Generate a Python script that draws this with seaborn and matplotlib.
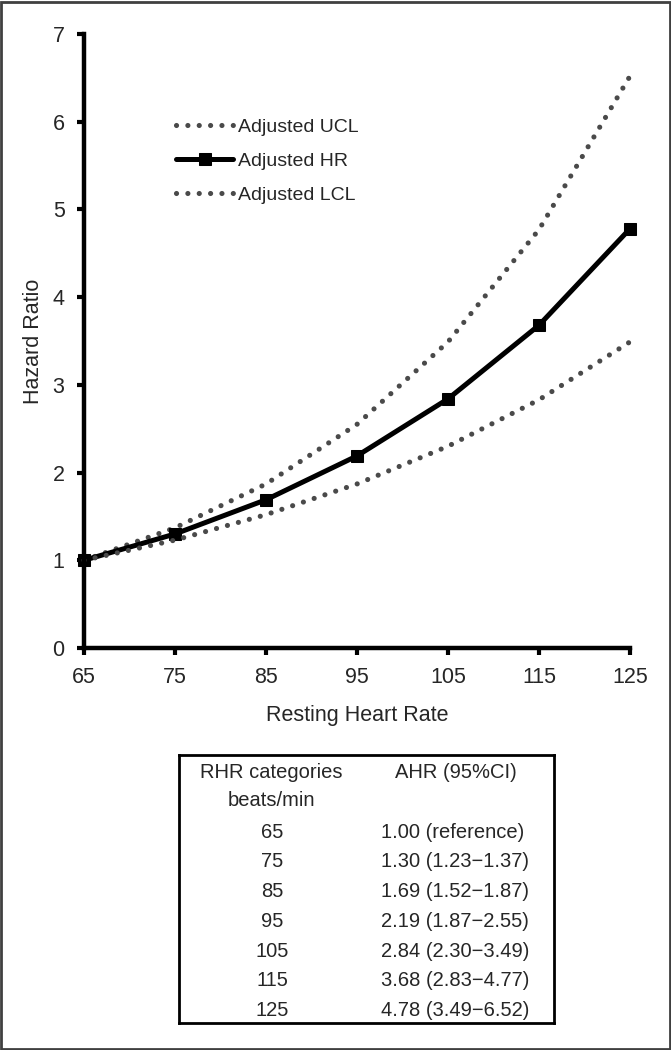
import pandas as pd
import seaborn as sns
import matplotlib.pyplot as plt
from matplotlib.patches import Rectangle

# data
rhr = [65, 75, 85, 95, 105, 115, 125]
hr = [1.00, 1.30, 1.69, 2.19, 2.84, 3.68, 4.78]
lcl = [1.00, 1.23, 1.52, 1.87, 2.30, 2.83, 3.49]
ucl = [1.00, 1.37, 1.87, 2.55, 3.49, 4.77, 6.52]
table_left = ["65", "75", "85", "95", "105", "115", "125"]
table_right = ["1.00 (reference)", "1.30 (1.23\u22121.37)", "1.69 (1.52\u22121.87)",
               "2.19 (1.87\u22122.55)", "2.84 (2.30\u22123.49)", "3.68 (2.83\u22124.77)",
               "4.78 (3.49\u22126.52)"]

df = pd.DataFrame({"rhr": rhr, "hr": hr, "lcl": lcl, "ucl": ucl})

sns.set_style("white")
plt.rcParams["font.family"] = ["Liberation Sans", "DejaVu Sans"]

fig = plt.figure(figsize=(6.71, 10.5), dpi=100)
ax = fig.add_axes([84/671, 1 - 648/1050, (630 - 84)/671, (648 - 34)/1050])

dots = dict(color="#4a4a4a", lw=3.7, linestyle=(0, (0.01, 2.2)), dash_capstyle="round")
sns.lineplot(data=df, x="rhr", y="ucl", ax=ax, label="Adjusted UCL", **dots)
sns.lineplot(data=df, x="rhr", y="hr", ax=ax, label="Adjusted HR", color="black",
             lw=3.6, marker="s", markersize=8, markeredgecolor="black")
sns.lineplot(data=df, x="rhr", y="lcl", ax=ax, label="Adjusted LCL", **dots)

ax.set_xlim(65, 125)
ax.set_ylim(0, 7)
ax.set_xticks(rhr)
ax.set_yticks(range(8))
ax.set_xlabel("Resting Heart Rate", fontsize=15.5, labelpad=12)
ax.set_ylabel("Hazard Ratio", fontsize=15.5, labelpad=6)
ax.tick_params(axis="both", labelsize=15.5, direction="out", length=5, width=3, color="black",
               bottom=True, left=True)
ax.tick_params(axis="x", pad=9)
ax.tick_params(axis="y", pad=9)
sns.despine(ax=ax)
for s in ["left", "bottom"]:
    ax.spines[s].set_linewidth(3.2)
    ax.spines[s].set_color("black")
for ln in ax.lines:
    ln.set_clip_on(False)

ax.legend(loc="upper left", bbox_to_anchor=(176/671, 1 - 118/1050), bbox_transform=fig.transFigure,
          frameon=False, fontsize=14, handlelength=2.95, handletextpad=0.25,
          labelspacing=0.85, borderpad=0, borderaxespad=0)

# table below the chart
tab = fig.add_axes([179/671, 1 - 1023/1050, (554 - 179)/671, (1023 - 755)/1050])
tab.set_xlim(179, 554)
tab.set_ylim(1023, 755)
tab.set_xticks([])
tab.set_yticks([])
for s in tab.spines.values():
    s.set_visible(True)
    s.set_color("black")
    s.set_linewidth(2)
fs = 14.5
tab.text(271, 773, "RHR categories", ha="center", va="center", fontsize=fs)
tab.text(271, 801, "beats/min", ha="center", va="center", fontsize=fs)
tab.text(456, 773, "AHR (95%CI)", ha="center", va="center", fontsize=fs)
for i, (a, b) in enumerate(zip(table_left, table_right)):
    y = 832 + i * 29.8
    tab.text(272, y, a, ha="center", va="center", fontsize=fs)
    tab.text(381, y, b, ha="left", va="center", fontsize=fs)

# outer frame
fig.patches.append(Rectangle((0.001, 0.001), 0.997, 0.997, transform=fig.transFigure,
                             fill=False, edgecolor="#404040", linewidth=2))

fig.savefig("out.png", dpi=100)
